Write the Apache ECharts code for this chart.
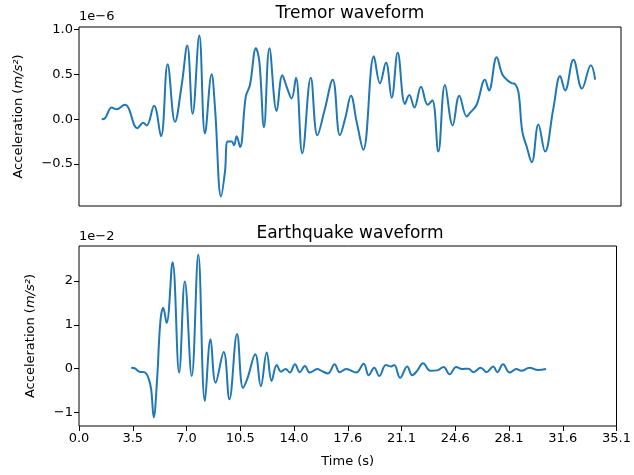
<!DOCTYPE html>
<html>
<head>
<meta charset="utf-8">
<script src="https://cdn.jsdelivr.net/npm/echarts@6/dist/echarts.min.js"></script>
<style>html,body{margin:0;padding:0;background:#fff}#c{width:634px;height:475px}</style>
</head>
<body>
<div id="c"></div>
<script>
// Tremor waveform (time s, acceleration ×1e-6 m/s²)
var tremorT = [1.47,1.68,2.12,2.44,2.98,3.19,3.78,4.16,4.38,4.86,5.31,5.74,6.22,6.65,7.01,7.36,7.79,8.16,8.59,8.81,9.20,9.45,9.63,9.89,10.04,10.21,10.43,10.80,11.07,11.46,11.68,11.98,12.33,12.80,13.17,13.45,13.77,14.05,14.46,15.01,15.44,15.89,16.43,16.90,17.27,17.61,17.98,18.41,19.10,19.49,19.88,20.25,20.64,21.11,21.39,21.72,22.15,22.58,22.88,23.27,23.70,24.20,24.63,25.11,25.32,25.75,26.29,26.55,27.05,27.41,27.76,28.02,28.24,28.46,28.71,29.00,29.32,29.75,30.18,30.72,31.16,31.48,32.02,32.57,33.15,33.43];
var tremorA = [0.00,0.01,0.13,0.11,0.16,0.13,-0.10,-0.04,-0.07,0.15,-0.19,0.61,-0.03,0.38,0.82,0.06,0.93,-0.16,0.50,0.12,-0.86,-0.59,-0.25,-0.25,-0.29,-0.19,-0.31,0.25,0.38,0.79,0.64,-0.09,0.79,0.09,0.49,0.36,0.23,0.46,-0.38,0.46,-0.18,0.09,0.44,-0.18,0.03,0.26,-0.03,-0.34,0.70,0.40,0.63,0.24,0.74,0.17,0.27,0.13,0.36,0.16,0.21,-0.36,0.38,-0.07,0.26,0.03,0.07,0.16,0.44,0.32,0.69,0.50,0.43,0.40,0.39,0.30,-0.14,-0.31,-0.48,-0.06,-0.36,0.12,0.48,0.32,0.66,0.34,0.60,0.44];
// Earthquake waveform (time s, acceleration ×1e-2 m/s²)
var quakeT = [3.41,3.63,3.95,4.27,4.53,4.71,4.88,5.10,5.31,5.50,5.72,6.11,6.54,6.91,7.36,7.79,8.22,8.59,8.92,9.45,9.82,10.32,10.71,11.01,11.51,11.87,12.26,12.58,12.91,13.19,13.49,13.77,14.10,14.42,14.75,15.07,15.57,15.83,16.26,16.69,17.02,17.45,18.10,18.59,18.92,19.28,19.61,20.04,20.37,20.58,20.97,21.43,21.76,22.08,22.47,22.94,23.38,23.81,24.20,24.63,25.00,25.43,25.75,26.23,26.61,27.05,27.31,27.69,28.12,28.56,28.88,29.42,29.96,30.50];
var quakeA = [0.02,0.01,-0.07,-0.08,-0.21,-0.47,-1.11,-0.24,1.06,1.39,1.04,2.43,-0.09,1.99,-0.17,2.60,-0.74,0.67,-0.32,0.38,-0.70,0.79,-0.44,-0.21,0.33,-0.40,0.37,-0.28,0.08,-0.07,-0.01,-0.09,0.10,-0.08,0.06,-0.09,-0.01,-0.05,-0.11,0.10,-0.08,-0.01,-0.09,0.11,-0.15,0.02,-0.17,0.08,0.05,0.08,-0.21,0.05,-0.15,-0.05,0.12,-0.05,-0.04,0.04,-0.13,0.04,-0.01,0.00,-0.08,0.02,-0.08,0.05,-0.08,0.10,-0.09,-0.01,-0.05,0.02,-0.03,-0.01];
var xTicks = [0,3.51,7.02,10.53,14.04,17.55,21.06,24.57,28.08,31.59,35.1];
var xTickLabels = ['0.0','3.5','7.0','10.5','14.0','17.6','21.1','24.6','28.1','31.6','35.1'];
var tremorTicks = [-0.5,0,0.5,1.0];
var tremorTickLabels = ['\u22120.5','0.0','0.5','1.0'];
var quakeTicks = [-1,0,1,2];
var quakeTickLabels = ['\u22121','0','1','2'];

function zip(a,b){var r=[];for(var i=0;i<a.length;i++)r.push([a[i],b[i]]);return r;}
function lookup(ticks,labels){return function(v){for(var i=0;i<ticks.length;i++){if(Math.abs(ticks[i]-v)<1e-6)return labels[i];}return '';};}

var FONT = 'DejaVu Sans';
var chart = echarts.init(document.getElementById('c'), null, {renderer:'canvas'});
var yName = '{n|Acceleration (}{i|m/s\u00B2}{n|)}';
var yRich = {n:{fontFamily:FONT,fontSize:13,color:'#000'}, i:{fontFamily:FONT,fontSize:13,fontStyle:'italic',color:'#000'}};
chart.setOption({
  animation:false,
  backgroundColor:'#fff',
  title:[
    {text:'Tremor waveform',left:350,top:5,padding:0,textAlign:'center',textStyle:{fontFamily:FONT,fontSize:17,fontWeight:'normal',color:'#000'}},
    {text:'Earthquake waveform',left:350,top:225,padding:0,textAlign:'center',textStyle:{fontFamily:FONT,fontSize:17,fontWeight:'normal',color:'#000'}},
    {text:'1e\u22126',left:79,top:10,padding:0,textStyle:{fontFamily:FONT,fontSize:13,fontWeight:'normal',color:'#000'}},
    {text:'1e\u22122',left:79,top:230,padding:0,textStyle:{fontFamily:FONT,fontSize:13,fontWeight:'normal',color:'#000'}}
  ],
  grid:[
    {left:79,top:27,width:542,height:179,show:true,borderColor:'#000',borderWidth:1,backgroundColor:'#fff'},
    {left:79,top:246,width:542,height:180,show:true,borderColor:'#000',borderWidth:1,backgroundColor:'#fff'}
  ],
  xAxis:[
    {type:'value',gridIndex:0,min:0,max:35.1,axisLine:{show:false,onZero:false},axisTick:{show:false},axisLabel:{show:false},splitLine:{show:false}},
    {type:'value',gridIndex:1,min:0,max:35.1,
     name:'Time (s)',nameLocation:'middle',nameGap:29,nameTextStyle:{fontFamily:FONT,fontSize:13,color:'#000'},
     axisLine:{show:false,onZero:false},
     axisTick:{show:true,inside:false,length:5,lineStyle:{color:'#000'},customValues:xTicks},
     axisLabel:{show:true,fontFamily:FONT,fontSize:13,color:'#000',margin:6,customValues:xTicks,formatter:lookup(xTicks,xTickLabels),showMinLabel:true,showMaxLabel:true},
     splitLine:{show:false}}
  ],
  yAxis:[
    {type:'value',gridIndex:0,min:-0.967,max:1.026,
     name:yName,nameLocation:'middle',nameGap:54,nameRotate:90,nameTextStyle:{rich:yRich},
     axisLine:{show:false,onZero:false},
     axisTick:{show:true,length:5,lineStyle:{color:'#000'},customValues:tremorTicks},
     axisLabel:{fontFamily:FONT,fontSize:13,color:'#000',margin:6,customValues:tremorTicks,formatter:lookup(tremorTicks,tremorTickLabels)},
     splitLine:{show:false}},
    {type:'value',gridIndex:1,min:-1.31,max:2.80,
     name:yName,nameLocation:'middle',nameGap:42,nameRotate:90,nameTextStyle:{rich:yRich},
     axisLine:{show:false,onZero:false},
     axisTick:{show:true,length:5,lineStyle:{color:'#000'},customValues:quakeTicks},
     axisLabel:{fontFamily:FONT,fontSize:13,color:'#000',margin:6,customValues:quakeTicks,formatter:lookup(quakeTicks,quakeTickLabels)},
     splitLine:{show:false}}
  ],
  series:[
    {type:'line',xAxisIndex:0,yAxisIndex:0,data:zip(tremorT,tremorA),smooth:0.4,showSymbol:false,lineStyle:{color:'#1f77b4',width:2},clip:true},
    {type:'line',xAxisIndex:1,yAxisIndex:1,data:zip(quakeT,quakeA),smooth:0.4,showSymbol:false,lineStyle:{color:'#1f77b4',width:2},clip:true}
  ]
});
</script>
</body>
</html>
